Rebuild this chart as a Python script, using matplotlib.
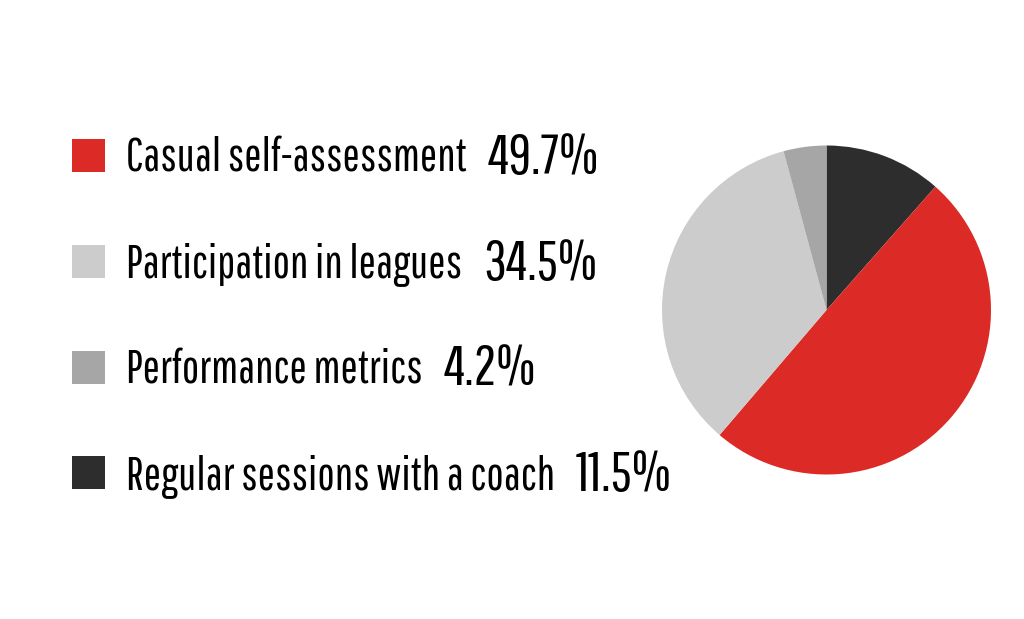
import matplotlib
matplotlib.use("Agg")
import matplotlib.pyplot as plt
from matplotlib.patches import Patch
from matplotlib import font_manager as fm

# ---------------------------------------------------------------- data
labels = ["Casual self-assessment", "Participation in leagues",
          "Performance metrics", "Regular sessions with a coach"]
shares = [49.7, 34.5, 4.2, 11.5]
colors = ["#dc2a27", "#cccccc", "#a6a6a6", "#2d2d2d"]

# pie runs clockwise from 12 o'clock, starting with the coach slice
pie_order = [3, 0, 1, 2]

have = {f.name for f in fm.fontManager.ttflist}
cands = ["Pathway Gothic One", "Oswald", "Barlow Condensed", "Archivo Narrow"]
FONT = [c for c in cands if c in have] + ["DejaVu Sans"]
plt.rcParams["font.family"] = FONT

W, H = 1024, 619
fig = plt.figure(figsize=(W / 100, H / 100), dpi=100)

# ---------------------------------------------------------------- pie
cx, cy, r = 826.5, H - 310, 164.5
ax = fig.add_axes([(cx - r) / W, (cy - r) / H, 2 * r / W, 2 * r / H])
ax.pie([shares[i] for i in pie_order],
       colors=[colors[i] for i in pie_order],
       startangle=90, counterclock=False, radius=1,
       wedgeprops=dict(linewidth=0))
ax.set_xlim(-1, 1)
ax.set_ylim(-1, 1)
ax.set_aspect("equal")
ax.axis("off")

# ---------------------------------------------------------------- legend
handles = [Patch(facecolor=c, edgecolor="none") for c in colors]
leg = fig.legend(handles, labels, loc="upper left",
                 bbox_to_anchor=(72 / W, 1 - 137 / H),
                 frameon=False, fontsize=33.2,
                 handlelength=0.72, handleheight=0.72,
                 handletextpad=0.45, labelspacing=1.35,
                 borderpad=0, borderaxespad=0)

fig.canvas.draw()
inv = fig.transFigure.inverted()
for txt, val in zip(leg.get_texts(), shares):
    bb = txt.get_window_extent()
    x0, y0 = inv.transform((bb.x1 + 21, (bb.y0 + bb.y1) / 2))
    fig.text(x0, y0, f"{val}%", fontsize=40.5, va="center", ha="left",
             color="black")

fig.savefig("out.png", dpi=100, facecolor="white")
